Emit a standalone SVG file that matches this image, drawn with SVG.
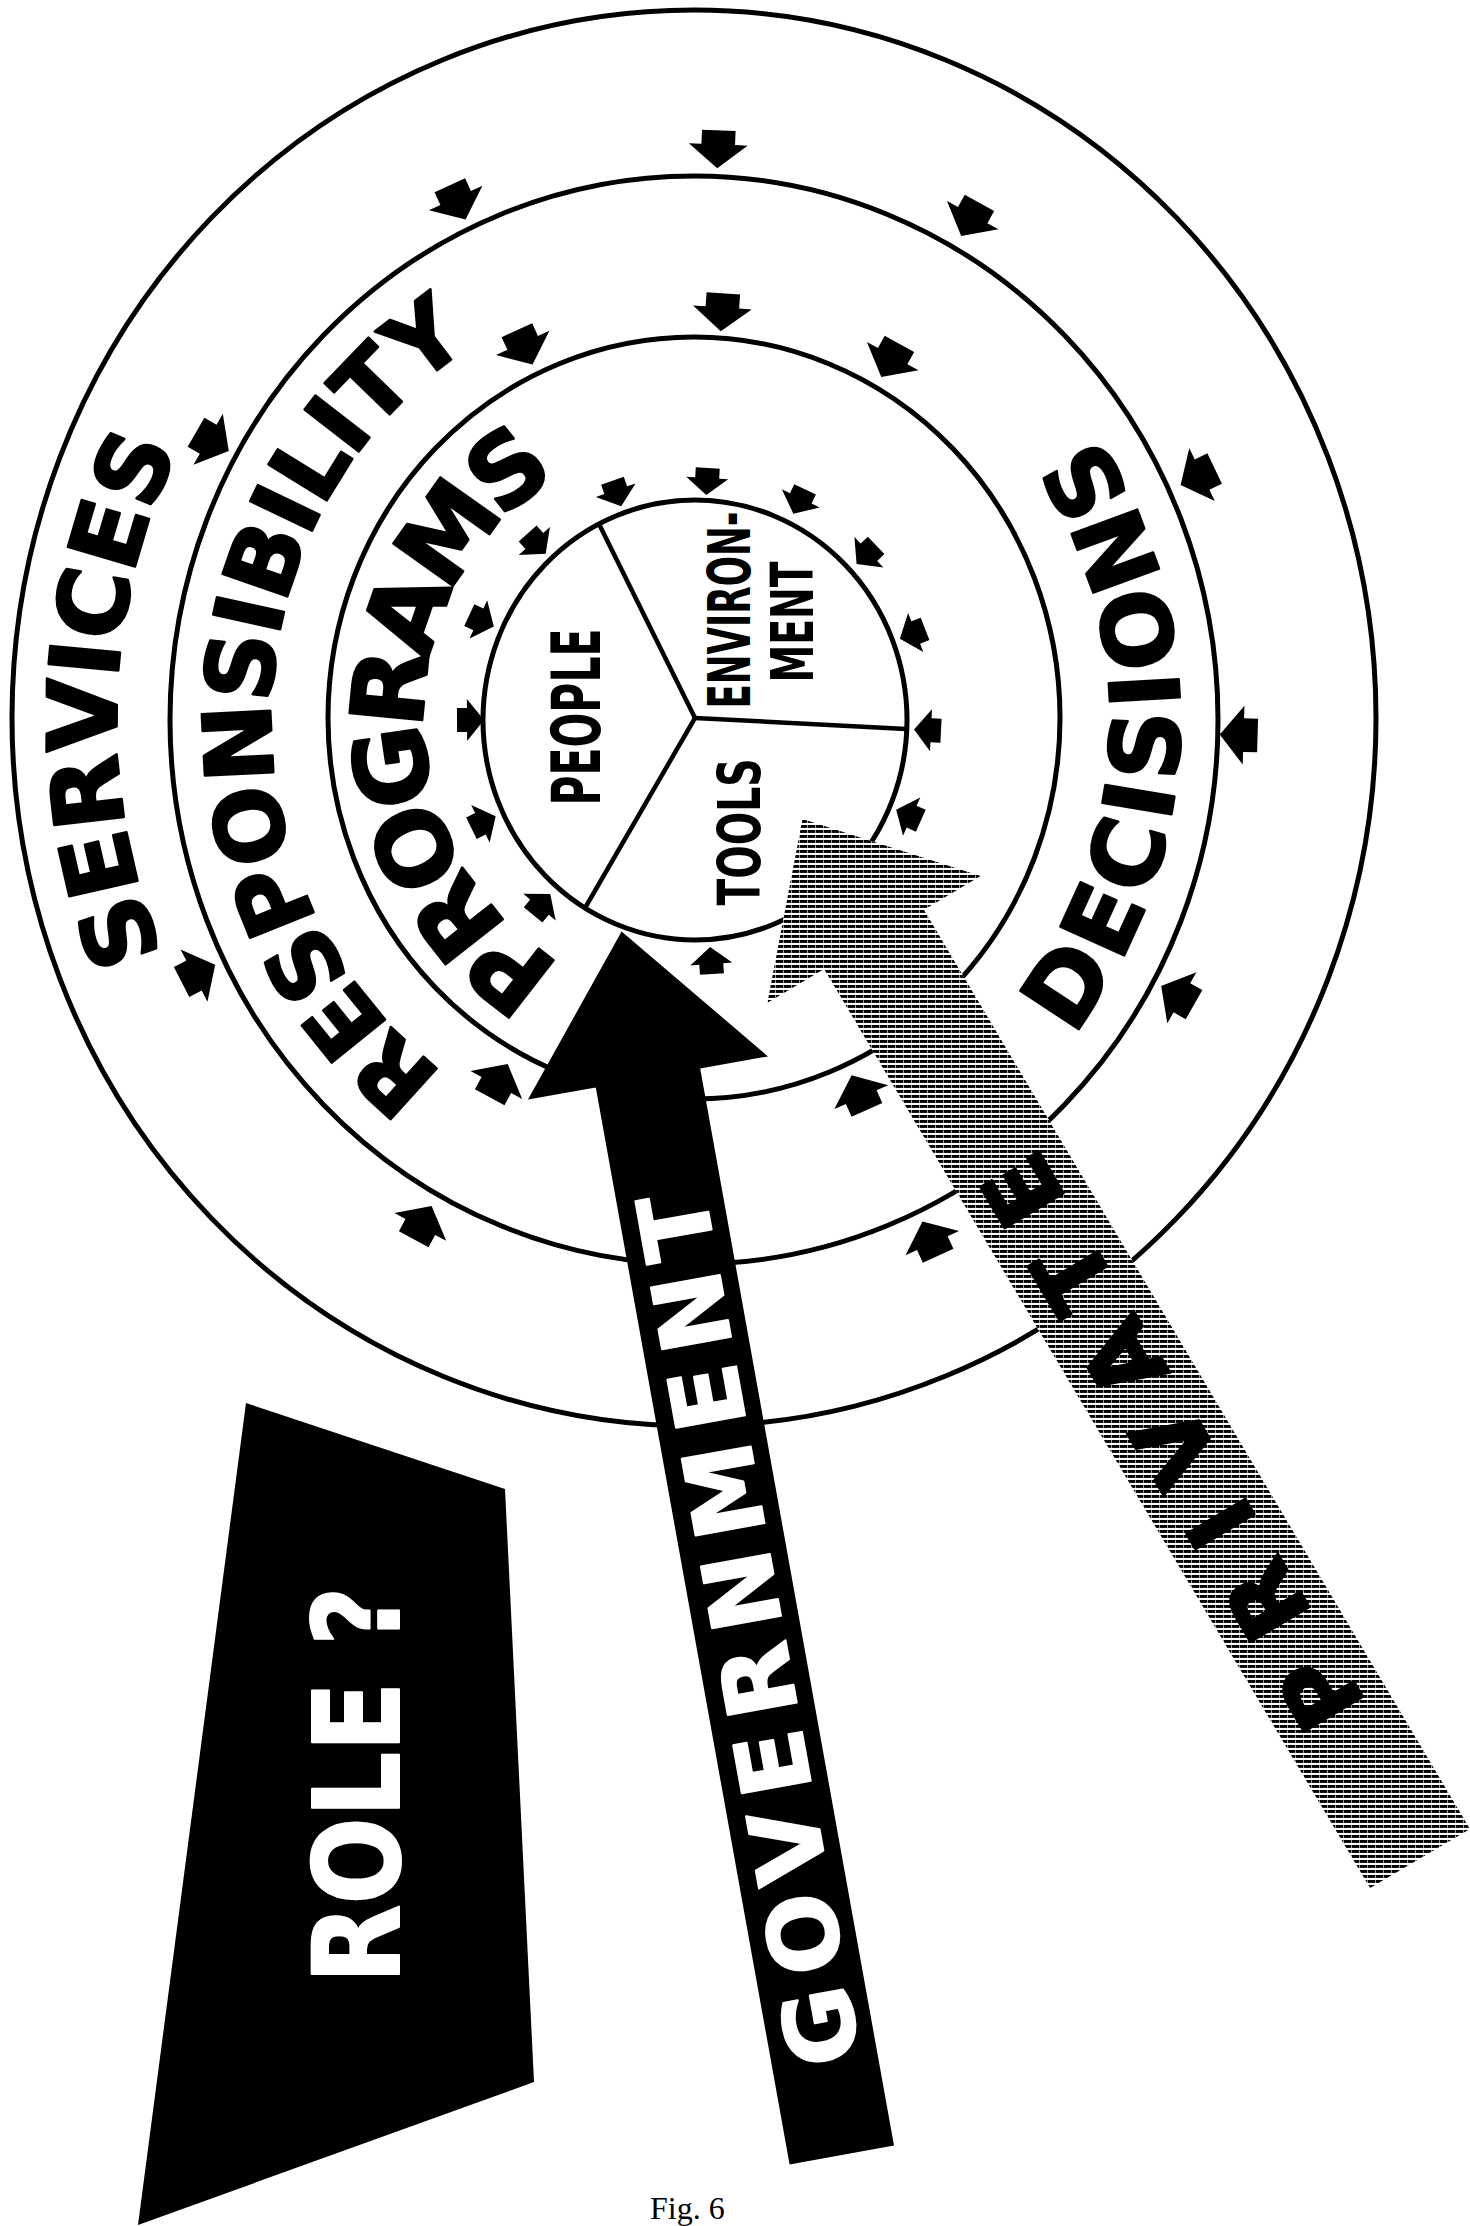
<svg xmlns="http://www.w3.org/2000/svg" width="1470" height="2226" viewBox="0 0 1470 2226">
<defs>
<style>
.ring{fill:none;stroke:#000;stroke-width:5}
.div{fill:none;stroke:#000;stroke-width:4.5;stroke-linecap:round}
.band{font-family:"DejaVu Sans","Liberation Sans",sans-serif;font-weight:bold;fill:#000;stroke:#000;stroke-width:2.5;stroke-linejoin:round}
.pie{font-family:"DejaVu Sans Condensed","DejaVu Sans",sans-serif;font-weight:bold;fill:#000}
.rev{font-family:"DejaVu Sans","Liberation Sans",sans-serif;font-weight:bold;fill:#fff;stroke:#fff;stroke-width:2;stroke-linejoin:round}
.ah{fill:#000}
</style>
<path id="ah" d="M13,0 L-4,-21 L-4,-12 L-14,-12 L-14,12 L-4,12 L-4,21 Z"/>
<pattern id="hatch" width="8" height="5" patternUnits="userSpaceOnUse"><rect width="8" height="5" fill="#fff"/><rect width="7.4" height="2.9" fill="#000"/></pattern>
<path id="pServices" d="M575,1305.1 A577 598.9 0 0 1 612.7,126"/>
<path id="pResp" d="M640.2,1154.5 A423 439.1 0 0 1 674.1,280.4"/>
<path id="pProg" d="M672.3,998.4 A270 280.3 0 0 1 668.6,439.9"/>
<path id="pDec" d="M716.1,1223 A486 504.5 0 0 0 756.6,218.7"/>
</defs>
<rect width="1470" height="2226" fill="#fff"/>

<g id="rings">
<ellipse class="ring" cx="694" cy="718" rx="682" ry="708"/>
<ellipse class="ring" cx="694" cy="720" rx="524" ry="544"/>
<ellipse class="ring" cx="694" cy="718" rx="366" ry="381"/>
</g>

<g id="ring-labels">
<text class="band" font-size="96"><textPath href="#pServices" startOffset="50%" text-anchor="middle" textLength="520" lengthAdjust="spacing">SERVICES</textPath></text>
<text class="band" font-size="94"><textPath href="#pResp" startOffset="50%" text-anchor="middle" textLength="850" lengthAdjust="spacing">RESPONSIBILITY</textPath></text>
<text class="band" font-size="100"><textPath href="#pProg" startOffset="50%" text-anchor="middle" textLength="585" lengthAdjust="spacing">PROGRAMS</textPath></text>
<text class="band" font-size="96"><textPath href="#pDec" startOffset="50%" text-anchor="middle" textLength="640" lengthAdjust="spacing">DECISIONS</textPath></text>
</g>

<g id="government">
<polygon points="621.6,931.4 768,1056.4 700.2,1068.6 894,2145.6 789.6,2164.4 595.8,1087.4 528,1099.6" fill="#000"/>
<text class="rev" font-size="96" transform="translate(748,1630) rotate(-100.2)" x="0" y="35" text-anchor="middle" textLength="885" lengthAdjust="spacing">GOVERNMENT</text>
</g>

<g id="pie">
<ellipse cx="695" cy="720" rx="212" ry="220" fill="#fff" stroke="#000" stroke-width="5"/>
<line class="div" x1="695" y1="718" x2="599" y2="524"/>
<line class="div" x1="695" y1="718" x2="906" y2="729"/>
<line class="div" x1="695" y1="718" x2="585" y2="908"/>
<text class="pie" font-size="67" transform="translate(576,717) rotate(-90)" x="0" y="24" text-anchor="middle" textLength="177" lengthAdjust="spacingAndGlyphs">PEOPLE</text>
<text class="pie" font-size="58" transform="translate(729,610) rotate(-90)" x="0" y="21" text-anchor="middle" textLength="197" lengthAdjust="spacingAndGlyphs">ENVIRON-</text>
<text class="pie" font-size="58" transform="translate(792,622) rotate(-90)" x="0" y="21" text-anchor="middle" textLength="121" lengthAdjust="spacingAndGlyphs">MENT</text>
<text class="pie" font-size="58" transform="translate(739,832) rotate(-90)" x="0" y="21" text-anchor="middle" textLength="147" lengthAdjust="spacingAndGlyphs">TOOLS</text>
</g>

<g id="private">
<polygon points="802.5,819 980.6,876 923.9,909.8 1469.9,1828.9 1370.1,1888.1 824.1,969 767.4,1002.8" fill="#fff"/>
<polygon points="802.5,819 980.6,876 923.9,909.8 1469.9,1828.9 1370.1,1888.1 824.1,969 767.4,1002.8" fill="url(#hatch)"/>
<text class="band" font-size="94" transform="translate(1172,1442) rotate(-120.7)" x="0" y="34" text-anchor="middle" textLength="650" lengthAdjust="spacing">PRIVATE</text>
</g>

<g id="role">
<polygon points="246,1403 505,1489 534,2082 138,2225" fill="#000"/>
<text class="rev" font-size="120" transform="translate(356,1785) rotate(-90)" x="0" y="43" text-anchor="middle" textLength="397" lengthAdjust="spacingAndGlyphs">ROLE ?</text>
</g>

<g id="connectors" class="ah">
<use href="#ah" transform="translate(718,150) rotate(92.4) scale(1.4)"/>
<use href="#ah" transform="translate(458,203) rotate(65.4) scale(1.4)"/>
<use href="#ah" transform="translate(213,442) rotate(29.9) scale(1.4)"/>
<use href="#ah" transform="translate(199,973) rotate(-27.2) scale(1.4)"/>
<use href="#ah" transform="translate(423,1222) rotate(-61.7) scale(1.4)"/>
<use href="#ah" transform="translate(930,1238) rotate(-114.5) scale(1.4)"/>
<use href="#ah" transform="translate(1177,995) rotate(-150.3) scale(1.4)"/>
<use href="#ah" transform="translate(1238,735) rotate(-178.3) scale(1.4)"/>
<use href="#ah" transform="translate(1197,477) rotate(154.3) scale(1.4)"/>
<use href="#ah" transform="translate(970,220) rotate(118.9) scale(1.4)"/>

<use href="#ah" transform="translate(722,313) rotate(93.9) scale(1.4)"/>
<use href="#ah" transform="translate(525,348) rotate(65.5) scale(1.4)"/>
<use href="#ah" transform="translate(890,361) rotate(118.7) scale(1.4)"/>
<use href="#ah" transform="translate(499,1080) rotate(-61.6) scale(1.4)"/>
<use href="#ah" transform="translate(859,1092) rotate(-113.9) scale(1.4)"/>

<use href="#ah" transform="translate(707,482) rotate(93.1)"/>
<use href="#ah" transform="translate(617,494) rotate(71.1)"/>
<use href="#ah" transform="translate(799,502) rotate(115.8)"/>
<use href="#ah" transform="translate(537,544) rotate(48.1)"/>
<use href="#ah" transform="translate(866,555) rotate(136.4)"/>
<use href="#ah" transform="translate(482,621) rotate(24.8)"/>
<use href="#ah" transform="translate(912,634) rotate(158.7)"/>
<use href="#ah" transform="translate(471,720) rotate(-0.3)"/>
<use href="#ah" transform="translate(927,730) rotate(-177.3)"/>
<use href="#ah" transform="translate(484,822) rotate(-26.1)"/>
<use href="#ah" transform="translate(908,815) rotate(-155.8)"/>
<use href="#ah" transform="translate(542,904) rotate(-50.6)"/>
<use href="#ah" transform="translate(711,960) rotate(-94)"/>
</g>

<text x="650" y="2219" font-family="Liberation Serif, serif" font-size="32" fill="#000">Fig. 6</text>
</svg>
